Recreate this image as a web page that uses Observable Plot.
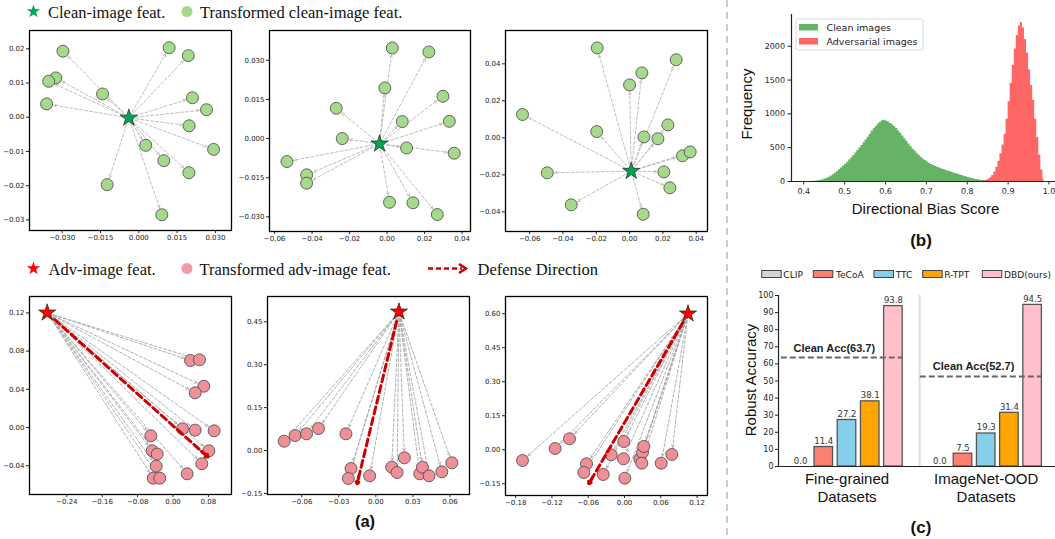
<!DOCTYPE html>
<html><head><meta charset="utf-8">
<script src="https://cdn.jsdelivr.net/npm/d3@7"></script>
<script src="https://cdn.jsdelivr.net/npm/@observablehq/plot@0.6"></script>
<style>
html,body{margin:0;padding:0;background:#fff;overflow:hidden}
#root{position:relative;width:1055px;height:539px;overflow:hidden;background:#fff}
.panel{position:absolute}
.panel svg{max-width:none!important;background:transparent!important;overflow:visible;display:block}
#overlay{position:absolute;left:0;top:0}
</style></head><body><div id="root"></div>
<script>
// ---------------- DATA ----------------
// (a) top row: clean-image features (star) and transformed clean-image features (dots)
const tlStar = [-0.0039, -0.0002];
const tlX = [-0.0297, 0.0119, 0.0194, -0.0325, -0.0353, -0.0142, -0.0361, 0.0210, 0.0265, 0.0197, 0.0293, 0.0027, 0.0098, 0.0196, -0.0124, 0.0090];
const tlY = [0.0193, 0.0203, 0.0180, 0.0115, 0.0105, 0.0068, 0.0039, 0.0057, 0.0022, -0.0025, -0.0094, -0.0082, -0.0127, -0.0162, -0.0197, -0.0285];
const tmStar = [-0.0040, -0.0020];
const tmX = [0.0028, 0.0223, -0.0012, 0.0298, -0.0271, 0.0081, 0.0332, -0.0239, 0.0104, 0.0358, -0.0534, -0.0429, -0.0429, 0.0013, 0.0138, 0.0268];
const tmY = [0.0347, 0.0332, 0.0194, 0.0162, 0.0116, 0.0065, 0.0066, 0.0000, -0.0036, -0.0056, -0.0088, -0.0139, -0.0171, -0.0244, -0.0246, -0.0291];
const trStar = [0.0010, -0.0180];
const trX = [-0.0194, 0.0280, 0.0074, 0.0000, -0.0643, -0.0197, 0.0230, 0.0086, 0.0170, 0.0318, 0.0364, -0.0494, 0.0206, 0.0242, -0.0350, 0.0082];
const trY = [0.0486, 0.0422, 0.0351, 0.0286, 0.0126, 0.0034, 0.0070, 0.0005, -0.0005, -0.0097, -0.0076, -0.0189, -0.0184, -0.0270, -0.0362, -0.0413];
// (a) bottom row: adversarial-image features
const blStar = [-0.2843, 0.1201];
const blDefense = [0.0790, -0.0310];
const blX = [0.0395, 0.0599, 0.0697, 0.0501, 0.0215, 0.0501, 0.0930, -0.0501, 0.0810, -0.0470, -0.0357, 0.0651, -0.0380, 0.0320, -0.0448, -0.0298];
const blY = [0.0702, 0.0709, 0.0432, 0.0363, -0.0014, -0.0028, -0.0035, -0.0087, -0.0244, -0.0244, -0.0279, -0.0380, -0.0405, -0.0485, -0.0531, -0.0531];
const bmStar = [0.0187, 0.485];
const bmDefense = [-0.0152, -0.1165];
const bmX = [-0.0742, -0.0653, -0.0561, -0.0464, -0.0242, -0.0201, -0.0223, -0.0050, 0.0128, 0.0172, 0.0231, 0.0355, 0.0377, 0.0431, 0.0534, 0.0615];
const bmY = [0.0325, 0.0524, 0.0584, 0.0769, 0.0584, -0.0629, -0.0979, -0.0885, -0.0583, -0.0769, -0.0256, -0.0815, -0.0583, -0.0885, -0.0745, -0.0431];
const brStar = [0.1050, 0.600];
const brDefense = [-0.0590, -0.1500];
const brX = [-0.1686, -0.1146, -0.0909, -0.0628, -0.0672, -0.0352, -0.0220, -0.0011, -0.0017, 0.0005, 0.0253, 0.0298, 0.0319, 0.0286, 0.0607, 0.0782];
const brY = [-0.0472, 0.0057, 0.0485, -0.0618, -0.1001, -0.1090, -0.0221, 0.0366, -0.0397, -0.1253, -0.0397, -0.0119, 0.0146, -0.0591, -0.0591, -0.0207];

// (b) histogram: bin width 0.005, counts
const histBinWidth = 0.005;
const cleanStart = 0.420;
const cleanCounts = [3,5,8,12,18,26,36,48,62,80,100,122,146,172,200,228,256,286,318,350,385,420,458,495,532,572,612,655,700,742,780,815,850,878,898,905,895,880,858,838,812,782,748,712,672,632,594,556,518,482,450,418,388,360,334,310,288,268,250,236,222,210,198,187,176,166,156,146,136,126,116,106,96,87,78,69,60,52,44,37,30,24,18,13,8,4,2];
const advStart = 0.835;
const advCounts = [3,8,18,32,55,90,140,210,300,410,540,700,920,1180,1450,1720,1960,2160,2300,2350,2270,2100,1900,1650,1420,1200,920,650,390,170,35];
const histXTicks = [0.4, 0.5, 0.6, 0.7, 0.8, 0.9, 1.0];
const histYTicks = [0, 500, 1000, 1500, 2000];

// (c) robust accuracy bars
const methods = ["CLIP", "TeCoA", "TTC", "R-TPT", "DBD(ours)"];
const groups = ["Fine-grained\nDatasets", "ImageNet-OOD\nDatasets"];
const fineScores = [0.0, 11.4, 27.2, 38.1, 93.8];
const oodScores = [0.0, 7.5, 19.3, 31.4, 94.5];
const cleanAcc = [63.7, 52.7];
const barYTicks = [0, 10, 20, 30, 40, 50, 60, 70, 80, 90, 100];

// ---------------- STYLES ----------------
const barColors = ["#d3d3d3", "#fa8072", "#87ceeb", "#ffa500", "#ffc0cb"];
const greenStar = "#00a651", greenDot = "#a6d98c";
const redStar = "#ff0000", redDot = "#ef8f98";
const defenseRed = "#cc0000";

const root = document.getElementById("root");
function place(svg, left, top) {
  const d = document.createElement("div");
  d.className = "panel";
  d.style.left = left + "px";
  d.style.top = top + "px";
  d.appendChild(svg);
  root.appendChild(d);
}

function scatterPanel(c) {
  const [fx0, fy0, fx1, fy1] = c.frame;
  const ml = 36, mr = 6, mt = 6, mb = 18;
  const pts = c.xs.map((x, i) => ({x, y: c.ys[i]}));
  const star = c.star;
  const marks = [
    Plot.arrow(pts, {x1: () => star[0], y1: () => star[1], x2: "x", y2: "y",
      stroke: c.arrowColor, strokeWidth: 0.9, strokeDasharray: "3,2", headLength: 5, headAngle: 50, insetEnd: 7, insetStart: 2}),
    Plot.dot(pts, {x: "x", y: "y", r: 6, fill: c.dotColor, stroke: "#444", strokeWidth: 0.8})
  ];
  if (c.defense) {
    const def = [{x1: star[0], y1: star[1], x2: c.defense[0], y2: c.defense[1]}];
    marks.push(Plot.arrow(def, {x1: "x1", y1: "y1", x2: "x2", y2: "y2", stroke: defenseRed, strokeWidth: 3, strokeDasharray: "7,4", headLength: 0, insetStart: 10, insetEnd: 3}));
    marks.push(Plot.arrow(def, {x1: d => d.x2 + (d.x1 - d.x2) * 0.04, y1: d => d.y2 + (d.y1 - d.y2) * 0.04, x2: "x2", y2: "y2",
      stroke: defenseRed, strokeWidth: 3, headLength: 13, headAngle: 70}));
  }
  marks.push(Plot.dot([star], {x: d => d[0], y: d => d[1], symbol: "star", r: 5.4, fill: c.starColor, stroke: "#222", strokeWidth: 0.7}));
  marks.push(Plot.frame({stroke: "#000", strokeWidth: 1.3}));
  marks.push(Plot.axisX({ticks: c.xTicks, tickFormat: d3.format(c.xFmt), tickSize: 3, tickPadding: 2, label: null}));
  marks.push(Plot.axisY({ticks: c.yTicks, tickFormat: d3.format(c.yFmt), tickSize: 3, tickPadding: 2, label: null}));
  const svg = Plot.plot({
    width: fx1 - fx0 + ml + mr, height: fy1 - fy0 + mt + mb,
    marginLeft: ml, marginRight: mr, marginTop: mt, marginBottom: mb,
    x: {domain: c.xDomain}, y: {domain: c.yDomain},
    style: {fontFamily: "DejaVu Sans", fontSize: "7px", color: "#222", background: "transparent", maxWidth: "none"},
    marks
  });
  place(svg, fx0 - ml, fy0 - mt);
}

scatterPanel({frame: [29, 30, 231, 230], xDomain: [-0.0428, 0.0363], yDomain: [-0.0331, 0.02535],
  xTicks: [-0.03, -0.015, 0, 0.015, 0.03], yTicks: [-0.03, -0.02, -0.01, 0, 0.01, 0.02], xFmt: ".3f", yFmt: ".2f",
  xs: tlX, ys: tlY, star: tlStar, starColor: greenStar, dotColor: greenDot, arrowColor: "#b8b8b8"});
scatterPanel({frame: [269, 30, 470, 231], xDomain: [-0.0627, 0.0445], yDomain: [-0.0356, 0.0414],
  xTicks: [-0.06, -0.04, -0.02, 0, 0.02, 0.04], yTicks: [-0.03, -0.015, 0, 0.015, 0.03], xFmt: ".2f", yFmt: ".3f",
  xs: tmX, ys: tmY, star: tmStar, starColor: greenStar, dotColor: greenDot, arrowColor: "#b8b8b8"});
scatterPanel({frame: [505, 30, 707, 231], xDomain: [-0.0745, 0.0468], yDomain: [-0.0506, 0.058],
  xTicks: [-0.06, -0.04, -0.02, 0, 0.02, 0.04], yTicks: [-0.04, -0.02, 0, 0.02, 0.04], xFmt: ".2f", yFmt: ".2f",
  xs: trX, ys: trY, star: trStar, starColor: greenStar, dotColor: greenDot, arrowColor: "#b8b8b8"});
scatterPanel({frame: [29, 296, 231, 494], xDomain: [-0.3243, 0.1322], yDomain: [-0.0702, 0.1372],
  xTicks: [-0.24, -0.16, -0.08, 0, 0.08], yTicks: [-0.04, 0, 0.04, 0.08, 0.12], xFmt: ".2f", yFmt: ".2f",
  xs: blX, ys: blY, star: blStar, defense: blDefense, starColor: redStar, dotColor: redDot, arrowColor: "#a8a8a8"});
scatterPanel({frame: [267, 296, 469, 494], xDomain: [-0.0877, 0.0758], yDomain: [-0.1538, 0.5385],
  xTicks: [-0.06, -0.03, 0, 0.03, 0.06], yTicks: [-0.15, 0, 0.15, 0.3, 0.45], xFmt: ".2f", yFmt: ".2f",
  xs: bmX, ys: bmY, star: bmStar, defense: bmDefense, starColor: redStar, dotColor: redDot, arrowColor: "#a8a8a8"});
scatterPanel({frame: [505, 296, 707, 495], xDomain: [-0.1967, 0.1372], yDomain: [-0.2016, 0.676],
  xTicks: [-0.18, -0.12, -0.06, 0, 0.06, 0.12], yTicks: [-0.15, 0, 0.15, 0.3, 0.45, 0.6], xFmt: ".2f", yFmt: ".2f",
  xs: brX, ys: brY, star: brStar, defense: brDefense, starColor: redStar, dotColor: redDot, arrowColor: "#a8a8a8"});

// ---------------- (b) histogram ----------------
const cleanBins = cleanCounts.map((n, i) => ({x: cleanStart + (i + 0.5) * histBinWidth, n}));
const advBins = advCounts.map((n, i) => ({x: advStart + (i + 0.5) * histBinWidth, n}));
place(Plot.plot({
  width: 326.7, height: 235, marginLeft: 61, marginRight: 0, marginTop: 14, marginBottom: 54,
  x: {domain: [0.37, 1.02]}, y: {domain: [0, 2470]},
  style: {fontFamily: "DejaVu Sans", fontSize: "8px", color: "#222", background: "transparent", maxWidth: "none"},
  marks: [
    Plot.areaY(cleanBins, {x: "x", y: "n", curve: "step", fill: "green", fillOpacity: 0.6}),
    Plot.areaY(advBins, {x: "x", y: "n", curve: "step", fill: "red", fillOpacity: 0.6}),
    Plot.ruleY([0], {stroke: "#222", strokeWidth: 1.2}),
    Plot.ruleX([0.37], {stroke: "#222", strokeWidth: 1.2}),
    Plot.axisX({ticks: histXTicks, tickFormat: d3.format(".1f"), tickSize: 3.5, tickPadding: 3, label: null}),
    Plot.axisY({ticks: histYTicks, tickFormat: d3.format("d"), tickSize: 3.5, tickPadding: 3, label: null})
  ]
}), 730, 0);

// ---------------- (c) bars ----------------
const barKeys = [...methods.map(m => "F|" + m), "gap", ...methods.map(m => "I|" + m)];
const barData = [
  ...methods.map((m, i) => ({key: "F|" + m, method: m, value: fineScores[i]})),
  ...methods.map((m, i) => ({key: "I|" + m, method: m, value: oodScores[i]}))
];
const cleanData = cleanAcc.map((v, i) => ({v, key: i ? "I|CLIP" : "F|CLIP", label: `Clean Acc(${v})`}));
const groupData = groups.map((g, i) => ({g, key: i ? "I|TTC" : "F|TTC"}));
place(Plot.plot({
  width: 325, height: 304, marginLeft: 48, marginRight: 0, marginTop: 60, marginBottom: 73,
  x: {type: "band", domain: barKeys, range: [58.5, 313.7], paddingInner: 0.2, paddingOuter: 0.1, round: false, axis: null},
  y: {domain: [0, 100]},
  color: {domain: methods, range: barColors},
  style: {fontFamily: "DejaVu Sans", fontSize: "8px", color: "#222", background: "transparent", maxWidth: "none"},
  marks: [
    Plot.ruleX(["gap"], {stroke: "#dddddd", strokeWidth: 2, dx: 3}),
    Plot.barY(barData, {x: "key", y: "value", fill: "method", stroke: "#555", strokeWidth: 1.3}),
    Plot.ruleY([cleanAcc[0]], {x1: () => "F|CLIP", x2: () => "F|DBD(ours)", insetLeft: -10, stroke: "#666", strokeWidth: 2, strokeDasharray: "6,3"}),
    Plot.ruleY([cleanAcc[1]], {x1: () => "gap", x2: () => "I|DBD(ours)", insetLeft: 13, stroke: "#666", strokeWidth: 2, strokeDasharray: "6,3"}),
    Plot.text(barData, {x: "key", y: "value", text: d => d.value.toFixed(1), dy: -3, lineAnchor: "bottom", fontSize: 8.5, fill: "#333"}),
    Plot.text(cleanData, {x: "key", y: "v", text: "label", textAnchor: "start", lineAnchor: "bottom", dx: -7, dy: -6,
      fontWeight: "bold", fontSize: 11, fontFamily: "Liberation Sans", fill: "#222"}),
    Plot.text(groupData, {x: "key", y: () => 0, text: "g", dy: 21, lineAnchor: "middle", lineHeight: 1.2,
      fontSize: 15, fontFamily: "Liberation Sans", fill: "#111"}),
    Plot.ruleY([0], {stroke: "#222", strokeWidth: 1.2}),
    Plot.ruleX([barKeys[0]], {dx: -22.1, stroke: "#222", strokeWidth: 1.2}),
    Plot.axisY({ticks: barYTicks, tickFormat: d3.format("d"), tickSize: 3, tickPadding: 2, label: null})
  ]
}), 730, 235);

// ---------------- overlay: legends, titles, labels ----------------
const ov = d3.create("svg").attr("id", "overlay").attr("width", 1055).attr("height", 539);
const starPath = d3.symbol(d3.symbolStar, Math.PI * 4.2 * 4.2)();
function txt(x, y, s, o = {}) {
  const t = ov.append("text").attr("x", x).attr("y", y).text(s)
    .attr("font-family", o.family || "Liberation Sans").attr("font-size", o.size || 12)
    .attr("font-weight", o.weight || "normal").attr("fill", o.fill || "#111")
    .attr("text-anchor", o.anchor || "start");
  if (o.rotate) t.attr("transform", `rotate(-90 ${x} ${y})`).attr("dominant-baseline", "middle");
  return t;
}
// separator
ov.append("line").attr("x1", 727).attr("x2", 727).attr("y1", 0).attr("y2", 539)
  .attr("stroke", "#cccccc").attr("stroke-width", 2).attr("stroke-dasharray", "7,5");
// row 1 legend
ov.append("path").attr("d", starPath).attr("transform", "translate(33.5,11.5)").attr("fill", greenStar);
txt(48, 17.5, "Clean-image feat.", {family: "Liberation Serif", size: 16.5});
ov.append("circle").attr("cx", 187).attr("cy", 11.5).attr("r", 5.5).attr("fill", greenDot);
txt(200, 17.5, "Transformed clean-image feat.", {family: "Liberation Serif", size: 16.5});
// row 2 legend
ov.append("path").attr("d", starPath).attr("transform", "translate(33.5,268.5)").attr("fill", redStar);
txt(48.5, 274.5, "Adv-image feat.", {family: "Liberation Serif", size: 16.5});
ov.append("circle").attr("cx", 187).attr("cy", 268.5).attr("r", 5.5).attr("fill", "#f19ca4");
txt(199.5, 274.5, "Transformed adv-image feat.", {family: "Liberation Serif", size: 16.5});
ov.append("line").attr("x1", 428).attr("x2", 462).attr("y1", 268.5).attr("y2", 268.5)
  .attr("stroke", defenseRed).attr("stroke-width", 2.5).attr("stroke-dasharray", "5,3");
ov.append("polyline").attr("points", "459,264 466,268.5 459,273").attr("fill", "none")
  .attr("stroke", defenseRed).attr("stroke-width", 2.5);
txt(477.5, 274.5, "Defense Direction", {family: "Liberation Serif", size: 16.5});
// (a)
txt(365, 527, "(a)", {size: 16.5, weight: "bold", anchor: "middle"});
// (b) labels
txt(748, 104, "Frequency", {size: 15, anchor: "middle", rotate: true});
txt(925.5, 214, "Directional Bias Score", {size: 15, anchor: "middle"});
txt(921, 246, "(b)", {size: 17, weight: "bold", anchor: "middle"});
ov.append("rect").attr("x", 796).attr("y", 19).attr("width", 127).attr("height", 31).attr("rx", 2)
  .attr("fill", "#fff").attr("fill-opacity", 0.8).attr("stroke", "#d0d0d0").attr("stroke-width", 0.8);
ov.append("rect").attr("x", 799).attr("y", 24).attr("width", 19).attr("height", 6.5).attr("fill", "green").attr("fill-opacity", 0.6);
ov.append("rect").attr("x", 799).attr("y", 38).attr("width", 19).attr("height", 6.5).attr("fill", "red").attr("fill-opacity", 0.6);
txt(826.5, 30.5, "Clean images", {family: "DejaVu Sans", size: 9.5, fill: "#222"});
txt(826.5, 44.5, "Adversarial images", {family: "DejaVu Sans", size: 9.5, fill: "#222"});
// (c) labels
txt(752, 380, "Robust  Accuracy", {size: 15, anchor: "middle", rotate: true});
txt(921, 533, "(c)", {size: 17, weight: "bold", anchor: "middle"});
const legSwatchX = [761.7, 813.3, 874, 922.7, 982.3];
const legTextX = [783.3, 836, 895.7, 944.3, 1004];
methods.forEach((m, i) => {
  ov.append("rect").attr("x", legSwatchX[i]).attr("y", 270.5).attr("width", 19.5).attr("height", 7)
    .attr("fill", barColors[i]).attr("stroke", "#444").attr("stroke-width", 1);
  txt(legTextX[i], 277.5, m, {family: "DejaVu Sans", size: 9.1, fill: "#222"});
});
root.appendChild(ov.node());
</script></body></html>
